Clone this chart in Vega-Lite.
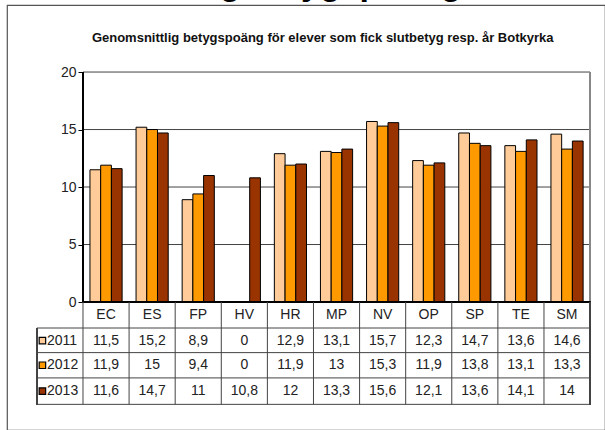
{
  "$schema": "https://vega.github.io/schema/vega-lite/v6.json",
  "width": 598,
  "height": 425,
  "autosize": {"type": "none"},
  "padding": {"left": 7, "top": 5, "right": 0, "bottom": 0},
  "background": "white",
  "title": {
    "text": "Genomsnittlig betygspoäng",
    "font": "Liberation Sans",
    "fontSize": 34,
    "fontWeight": "bold",
    "color": "#000",
    "anchor": "start",
    "frame": "group",
    "offset": 3,
    "dx": 5
  },
  "config": {
    "font": "Liberation Sans Narrow, Arial Narrow, Liberation Sans, sans-serif",
    "view": {"stroke": "#555", "strokeWidth": 1.2},
    "locale": {"number": {"decimal": ",", "thousands": " ", "grouping": [3], "currency": ["", " kr"]}}
  },
  "datasets": {
    "d": [
      {"kat": "EC", "ar": "2011", "v": 11.5}, {"kat": "ES", "ar": "2011", "v": 15.2}, {"kat": "FP", "ar": "2011", "v": 8.9},
      {"kat": "HV", "ar": "2011", "v": 0}, {"kat": "HR", "ar": "2011", "v": 12.9}, {"kat": "MP", "ar": "2011", "v": 13.1},
      {"kat": "NV", "ar": "2011", "v": 15.7}, {"kat": "OP", "ar": "2011", "v": 12.3}, {"kat": "SP", "ar": "2011", "v": 14.7},
      {"kat": "TE", "ar": "2011", "v": 13.6}, {"kat": "SM", "ar": "2011", "v": 14.6},
      {"kat": "EC", "ar": "2012", "v": 11.9}, {"kat": "ES", "ar": "2012", "v": 15}, {"kat": "FP", "ar": "2012", "v": 9.4},
      {"kat": "HV", "ar": "2012", "v": 0}, {"kat": "HR", "ar": "2012", "v": 11.9}, {"kat": "MP", "ar": "2012", "v": 13},
      {"kat": "NV", "ar": "2012", "v": 15.3}, {"kat": "OP", "ar": "2012", "v": 11.9}, {"kat": "SP", "ar": "2012", "v": 13.8},
      {"kat": "TE", "ar": "2012", "v": 13.1}, {"kat": "SM", "ar": "2012", "v": 13.3},
      {"kat": "EC", "ar": "2013", "v": 11.6}, {"kat": "ES", "ar": "2013", "v": 14.7}, {"kat": "FP", "ar": "2013", "v": 11},
      {"kat": "HV", "ar": "2013", "v": 10.8}, {"kat": "HR", "ar": "2013", "v": 12}, {"kat": "MP", "ar": "2013", "v": 13.3},
      {"kat": "NV", "ar": "2013", "v": 15.6}, {"kat": "OP", "ar": "2013", "v": 12.1}, {"kat": "SP", "ar": "2013", "v": 13.6},
      {"kat": "TE", "ar": "2013", "v": 14.1}, {"kat": "SM", "ar": "2013", "v": 14}
    ]
  },
  "data": {"name": "d"},
  "layer": [
    {
      "data": {"values": [{"g": 5}, {"g": 10}, {"g": 15}, {"g": 20}]},
      "mark": {"type": "rule", "color": "#444", "strokeWidth": 1},
      "encoding": {
        "x": {"datum": "EC", "bandPosition": 0, "scale": {"type": "band", "domain": ["hdr","EC","ES","FP","HV","HR","MP","NV","OP","SP","TE","SM"], "paddingInner": 0, "paddingOuter": 0.486, "align": 0.667}, "axis": null},
        "x2": {"datum": "SM", "bandPosition": 1},
        "y": {"field": "g", "type": "quantitative", "scale": {"domain": [-11.13, 25.83], "nice": false, "zero": false}, "axis": {"values": [0, 5, 10, 15, 20], "offset": -76, "domain": false, "grid": false, "ticks": true, "tickSize": 5, "tickColor": "#000", "labelFontSize": 14, "labelColor": "#222", "labelPadding": 2, "title": null}}
      }
    },
    {
      "mark": {"type": "bar", "stroke": "#000", "strokeWidth": 1},
      "encoding": {
        "x": {"field": "kat", "type": "nominal", "scale": {"type": "band", "domain": ["hdr","EC","ES","FP","HV","HR","MP","NV","OP","SP","TE","SM"], "paddingInner": 0, "paddingOuter": 0.486, "align": 0.667}, "axis": null},
        "xOffset": {"field": "ar", "type": "nominal", "scale": {"paddingOuter": 0.65, "paddingInner": 0}},
        "y": {"field": "v", "type": "quantitative", "scale": {"domain": [-11.13, 25.83], "nice": false, "zero": false}},
        "y2": {"datum": 0},
        "color": {"field": "ar", "type": "nominal", "scale": {"domain": ["2011", "2012", "2013"], "range": ["#FFCC99", "#FF9900", "#993300"]}, "legend": null}
      }
    },
    {
      "mark": {"type": "rule", "color": "#888", "strokeWidth": 1},
      "encoding": {
        "x": {"datum": "SM", "bandPosition": 1, "scale": {"type": "band", "domain": ["hdr","EC","ES","FP","HV","HR","MP","NV","OP","SP","TE","SM"], "paddingInner": 0, "paddingOuter": 0.486, "align": 0.667}},
        "y": {"datum": 0, "scale": {"domain": [-11.13, 25.83], "nice": false, "zero": false}},
        "y2": {"datum": 20}
      }
    },
    {
      "mark": {"type": "rule", "color": "#000", "strokeWidth": 1.2},
      "encoding": {
        "x": {"datum": "EC", "bandPosition": 0, "scale": {"type": "band", "domain": ["hdr","EC","ES","FP","HV","HR","MP","NV","OP","SP","TE","SM"], "paddingInner": 0, "paddingOuter": 0.486, "align": 0.667}},
        "x2": {"datum": "SM", "bandPosition": 1},
        "y": {"datum": 0, "scale": {"domain": [-11.13, 25.83], "nice": false, "zero": false}}
      }
    },
    {
      "mark": {"type": "rule", "color": "#000", "strokeWidth": 1.2},
      "encoding": {
        "x": {"datum": "EC", "bandPosition": 0, "scale": {"type": "band", "domain": ["hdr","EC","ES","FP","HV","HR","MP","NV","OP","SP","TE","SM"], "paddingInner": 0, "paddingOuter": 0.486, "align": 0.667}},
        "y": {"datum": 0, "scale": {"domain": [-11.13, 25.83], "nice": false, "zero": false}},
        "y2": {"datum": 20}
      }
    },
    {
      "data": {"values": [{"h": -2.26}, {"h": -4.4}, {"h": -6.6}, {"h": -8.9}]},
      "mark": {"type": "rule", "color": "#444", "strokeWidth": 1},
      "encoding": {
        "x": {"datum": "hdr", "bandPosition": 0, "scale": {"type": "band", "domain": ["hdr","EC","ES","FP","HV","HR","MP","NV","OP","SP","TE","SM"], "paddingInner": 0, "paddingOuter": 0.486, "align": 0.667}},
        "x2": {"datum": "SM", "bandPosition": 1},
        "y": {"field": "h", "type": "quantitative", "scale": {"domain": [-11.13, 25.83], "nice": false, "zero": false}}
      }
    },
    {
      "transform": [{"filter": "datum.ar == '2011'"}],
      "mark": {"type": "rule", "color": "#444", "strokeWidth": 1},
      "encoding": {
        "x": {"field": "kat", "type": "nominal", "bandPosition": 0, "scale": {"type": "band", "domain": ["hdr","EC","ES","FP","HV","HR","MP","NV","OP","SP","TE","SM"], "paddingInner": 0, "paddingOuter": 0.486, "align": 0.667}},
        "y": {"datum": 0, "scale": {"domain": [-11.13, 25.83], "nice": false, "zero": false}},
        "y2": {"datum": -8.9}
      }
    },
    {
      "mark": {"type": "rule", "color": "#444", "strokeWidth": 1},
      "encoding": {
        "x": {"datum": "SM", "bandPosition": 1, "scale": {"type": "band", "domain": ["hdr","EC","ES","FP","HV","HR","MP","NV","OP","SP","TE","SM"], "paddingInner": 0, "paddingOuter": 0.486, "align": 0.667}},
        "y": {"datum": 0, "scale": {"domain": [-11.13, 25.83], "nice": false, "zero": false}},
        "y2": {"datum": -8.9}
      }
    },
    {
      "mark": {"type": "rule", "color": "#444", "strokeWidth": 1},
      "encoding": {
        "x": {"datum": "hdr", "bandPosition": 0, "scale": {"type": "band", "domain": ["hdr","EC","ES","FP","HV","HR","MP","NV","OP","SP","TE","SM"], "paddingInner": 0, "paddingOuter": 0.486, "align": 0.667}},
        "y": {"datum": -2.26, "scale": {"domain": [-11.13, 25.83], "nice": false, "zero": false}},
        "y2": {"datum": -8.9}
      }
    },
    {
      "transform": [{"filter": "datum.ar == '2011'"}],
      "mark": {"type": "text", "fontSize": 14, "color": "#222"},
      "encoding": {
        "x": {"field": "kat", "type": "nominal", "scale": {"type": "band", "domain": ["hdr","EC","ES","FP","HV","HR","MP","NV","OP","SP","TE","SM"], "paddingInner": 0, "paddingOuter": 0.486, "align": 0.667}},
        "y": {"datum": -1.13, "scale": {"domain": [-11.13, 25.83], "nice": false, "zero": false}},
        "text": {"field": "kat"}
      }
    },
    {
      "data": {"values": [{"t": "Genomsnittlig  betygspoäng för elever som fick slutbetyg resp. år Botkyrka"}]},
      "mark": {"type": "text", "font": "Liberation Sans", "fontSize": 13, "fontWeight": "bold", "color": "#111"},
      "encoding": {
        "x": {"datum": "MP", "bandPosition": 0.2, "scale": {"type": "band", "domain": ["hdr","EC","ES","FP","HV","HR","MP","NV","OP","SP","TE","SM"], "paddingInner": 0, "paddingOuter": 0.486, "align": 0.667}},
        "y": {"datum": 22.96, "scale": {"domain": [-11.13, 25.83], "nice": false, "zero": false}},
        "text": {"field": "t"}
      }
    },
    {
      "transform": [{"filter": "datum.ar == '2011'"}],
      "encoding": {"y": {"datum": -3.35, "scale": {"domain": [-11.13, 25.83], "nice": false, "zero": false}}},
      "layer": [
        {
          "mark": {"type": "text", "fontSize": 14, "color": "#222"},
          "encoding": {
            "x": {"field": "kat", "type": "nominal", "scale": {"type": "band", "domain": ["hdr","EC","ES","FP","HV","HR","MP","NV","OP","SP","TE","SM"], "paddingInner": 0, "paddingOuter": 0.486, "align": 0.667}},
            "text": {"field": "v", "type": "quantitative", "format": ".1~f"}
          }
        },
        {
          "transform": [{"filter": "datum.kat == 'EC'"}],
          "mark": {"type": "point", "shape": "square", "filled": true, "size": 42, "stroke": "#000", "strokeWidth": 1.2, "opacity": 1},
          "encoding": {
            "x": {"datum": "hdr", "bandPosition": 0.12, "scale": {"type": "band", "domain": ["hdr","EC","ES","FP","HV","HR","MP","NV","OP","SP","TE","SM"], "paddingInner": 0, "paddingOuter": 0.486, "align": 0.667}},
            "color": {"field": "ar", "type": "nominal", "scale": {"domain": ["2011", "2012", "2013"], "range": ["#FFCC99", "#FF9900", "#993300"]}, "legend": null}
          }
        },
        {
          "transform": [{"filter": "datum.kat == 'EC'"}],
          "mark": {"type": "text", "fontSize": 14, "color": "#222", "align": "left"},
          "encoding": {
            "x": {"datum": "hdr", "bandPosition": 0.22, "scale": {"type": "band", "domain": ["hdr","EC","ES","FP","HV","HR","MP","NV","OP","SP","TE","SM"], "paddingInner": 0, "paddingOuter": 0.486, "align": 0.667}},
            "text": {"field": "ar"}
          }
        }
      ]
    },
    {
      "transform": [{"filter": "datum.ar == '2012'"}],
      "encoding": {"y": {"datum": -5.5, "scale": {"domain": [-11.13, 25.83], "nice": false, "zero": false}}},
      "layer": [
        {
          "mark": {"type": "text", "fontSize": 14, "color": "#222"},
          "encoding": {
            "x": {"field": "kat", "type": "nominal", "scale": {"type": "band", "domain": ["hdr","EC","ES","FP","HV","HR","MP","NV","OP","SP","TE","SM"], "paddingInner": 0, "paddingOuter": 0.486, "align": 0.667}},
            "text": {"field": "v", "type": "quantitative", "format": ".1~f"}
          }
        },
        {
          "transform": [{"filter": "datum.kat == 'EC'"}],
          "mark": {"type": "point", "shape": "square", "filled": true, "size": 42, "stroke": "#000", "strokeWidth": 1.2, "opacity": 1},
          "encoding": {
            "x": {"datum": "hdr", "bandPosition": 0.12, "scale": {"type": "band", "domain": ["hdr","EC","ES","FP","HV","HR","MP","NV","OP","SP","TE","SM"], "paddingInner": 0, "paddingOuter": 0.486, "align": 0.667}},
            "color": {"field": "ar", "type": "nominal", "scale": {"domain": ["2011", "2012", "2013"], "range": ["#FFCC99", "#FF9900", "#993300"]}, "legend": null}
          }
        },
        {
          "transform": [{"filter": "datum.kat == 'EC'"}],
          "mark": {"type": "text", "fontSize": 14, "color": "#222", "align": "left"},
          "encoding": {
            "x": {"datum": "hdr", "bandPosition": 0.22, "scale": {"type": "band", "domain": ["hdr","EC","ES","FP","HV","HR","MP","NV","OP","SP","TE","SM"], "paddingInner": 0, "paddingOuter": 0.486, "align": 0.667}},
            "text": {"field": "ar"}
          }
        }
      ]
    },
    {
      "transform": [{"filter": "datum.ar == '2013'"}],
      "encoding": {"y": {"datum": -7.75, "scale": {"domain": [-11.13, 25.83], "nice": false, "zero": false}}},
      "layer": [
        {
          "mark": {"type": "text", "fontSize": 14, "color": "#222"},
          "encoding": {
            "x": {"field": "kat", "type": "nominal", "scale": {"type": "band", "domain": ["hdr","EC","ES","FP","HV","HR","MP","NV","OP","SP","TE","SM"], "paddingInner": 0, "paddingOuter": 0.486, "align": 0.667}},
            "text": {"field": "v", "type": "quantitative", "format": ".1~f"}
          }
        },
        {
          "transform": [{"filter": "datum.kat == 'EC'"}],
          "mark": {"type": "point", "shape": "square", "filled": true, "size": 42, "stroke": "#000", "strokeWidth": 1.2, "opacity": 1},
          "encoding": {
            "x": {"datum": "hdr", "bandPosition": 0.12, "scale": {"type": "band", "domain": ["hdr","EC","ES","FP","HV","HR","MP","NV","OP","SP","TE","SM"], "paddingInner": 0, "paddingOuter": 0.486, "align": 0.667}},
            "color": {"field": "ar", "type": "nominal", "scale": {"domain": ["2011", "2012", "2013"], "range": ["#FFCC99", "#FF9900", "#993300"]}, "legend": null}
          }
        },
        {
          "transform": [{"filter": "datum.kat == 'EC'"}],
          "mark": {"type": "text", "fontSize": 14, "color": "#222", "align": "left"},
          "encoding": {
            "x": {"datum": "hdr", "bandPosition": 0.22, "scale": {"type": "band", "domain": ["hdr","EC","ES","FP","HV","HR","MP","NV","OP","SP","TE","SM"], "paddingInner": 0, "paddingOuter": 0.486, "align": 0.667}},
            "text": {"field": "ar"}
          }
        }
      ]
    }
  ]
}
